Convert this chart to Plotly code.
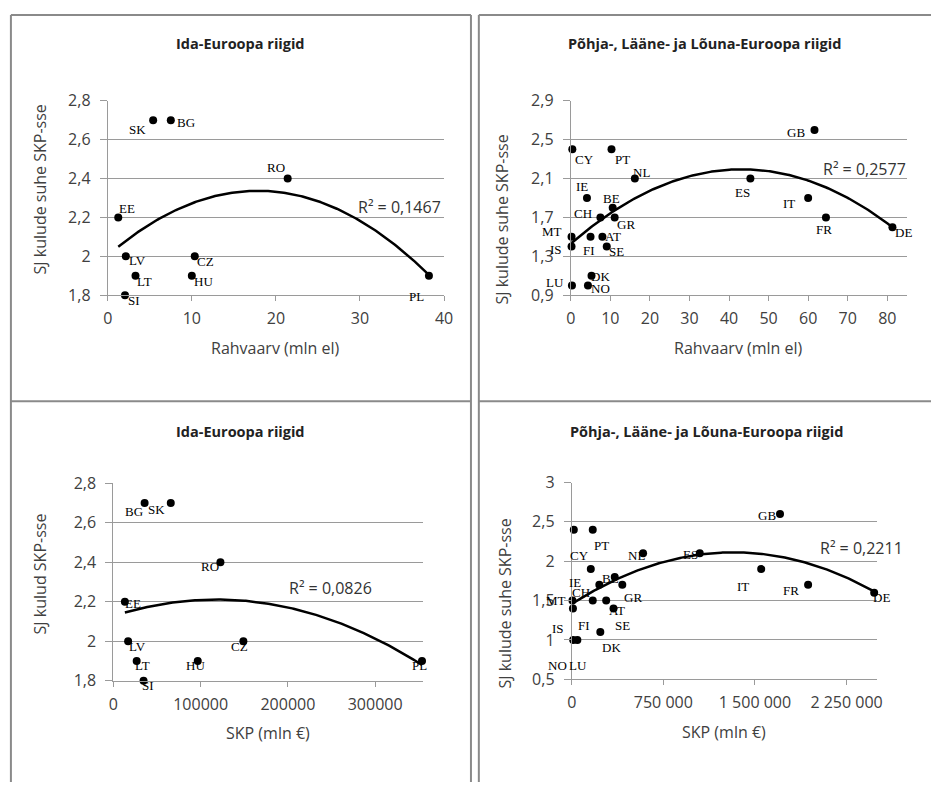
import numpy as np
import plotly.graph_objects as go

W, H = 940, 793

# ---------------- DATA ----------------
# Ida-Euroopa (East)
east_countries = ["SK", "BG", "RO", "EE", "LV", "CZ", "LT", "HU", "SI", "PL"]
east_pop = [5.4, 7.5, 21.4, 1.25, 2.15, 10.35, 3.3, 10.0, 2.05, 38.2]           # mln el
east_gdp = [65800, 35800, 122700, 13200, 16900, 149000, 26700, 96700, 34600, 353700]  # mln €
east_ratio = [2.7, 2.7, 2.4, 2.2, 2.0, 2.0, 1.9, 1.9, 1.8, 1.9]                  # SJ kulud / SKP

# Põhja-, Lääne- ja Lõuna-Euroopa (West)
west_countries = ["GB", "CY", "PT", "NL", "ES", "IE", "IT", "BE", "CH", "GR",
                  "FR", "DE", "MT", "FI", "AT", "IS", "SE", "DK", "LU", "NO"]
west_pop = [61.6, 0.4, 10.3, 16.2, 45.4, 4.1, 60.0, 10.6, 7.5, 11.1,
            64.5, 81.3, 0.2, 5.0, 8.0, 0.2, 9.1, 5.25, 0.3, 4.35]
west_gdp = [1705000, 17000, 172000, 584000, 1048000, 156000, 1551000, 352000, 226000, 414000,
            1935000, 2476000, 6000, 172000, 282000, 10000, 342000, 234000, 46000, 12000]
west_ratio = [2.6, 2.4, 2.4, 2.1, 2.1, 1.9, 1.9, 1.8, 1.7, 1.7,
              1.7, 1.6, 1.5, 1.5, 1.5, 1.4, 1.4, 1.1, 1.0, 1.0]

r2_texts = ["R² = 0,1467", "R² = 0,2577", "R² = 0,0826", "R² = 0,2211"]
titles = ["Ida-Euroopa riigid", "Põhja-, Lääne- ja Lõuna-Euroopa riigid",
          "Ida-Euroopa riigid", "Põhja-, Lääne- ja Lõuna-Euroopa riigid"]
x_titles = ["Rahvaarv (mln el)", "Rahvaarv (mln el)", "SKP (mln €)", "SKP (mln €)"]
y_titles = ["SJ kulude suhe SKP-sse", "SJ kulude suhe SKP-sse",
            "SJ kulud SKP-sse", "SJ kulude suhe SKP-sse"]

# ---------------- STYLE (label offsets in px: dx right, dy up) ----------------
off1 = [(-16, -9), (15, -2), (-12, 11), (9, 9), (12, -4), (11, -5), (9, -6), (12, -6), (9, -5), (-12, -21)]
off2 = [(-18, -3), (12, -10), (11, -10), (7, 6), (-8, -14), (-5, 11), (-19, -6), (-1, 9), (-17, 4), (11, -7),
        (-2, -12), (11, -5), (-20, 5), (-2, -14), (11, 0), (-16, -3), (10, -5), (9, -1), (-17, 3), (13, -3)]
off3 = [(-14, -6), (-11, -8), (-10, -4), (8, -2), (9, -5), (-4, -5), (6, -4), (-2, -4), (4, -5), (-2, -4)]
off4 = [(-13, -1), (6, -26), (9, -16), (-7, -2), (-9, -1), (-16, -13), (-18, -17), (-4, -2), (-18, -8), (11, -13),
        (-17, -6), (7, -5), (-16, 0), (-9, -25), (11, -10), (-15, -20), (9, -17), (11, -15), (1, -26), (-16, -26)]

GRID = "#9a9a9a"
TICKC = "#404040"
FONT = "Open Sans"
SERIF = "Liberation Serif"


def px_x(p):
    return p / W


def px_y(p):
    return 1 - p / H


fig = go.Figure()

panels = [
    dict(x=east_pop, y=east_ratio, names=east_countries, off=off1, ax="x", ay="y"),
    dict(x=west_pop, y=west_ratio, names=west_countries, off=off2, ax="x2", ay="y2"),
    dict(x=east_gdp, y=east_ratio, names=east_countries, off=off3, ax="x3", ay="y3"),
    dict(x=west_gdp, y=west_ratio, names=west_countries, off=off4, ax="x4", ay="y4"),
]

annotations = []
for p in panels:
    xs = np.array(p["x"], dtype=float)
    ys = np.array(p["y"], dtype=float)
    coef = np.polyfit(xs, ys, 2)
    xt = np.linspace(xs.min(), xs.max(), 200)
    yt = np.polyval(coef, xt)
    fig.add_trace(go.Scatter(x=xt, y=yt, mode="lines", line=dict(color="black", width=2.5),
                             xaxis=p["ax"], yaxis=p["ay"], hoverinfo="skip", showlegend=False))
    fig.add_trace(go.Scatter(x=p["x"], y=p["y"], mode="markers", text=p["names"],
                             marker=dict(color="black", size=8), xaxis=p["ax"], yaxis=p["ay"],
                             showlegend=False, cliponaxis=False))
    for xv, yv, nm, (dx, dy) in zip(p["x"], p["y"], p["names"], p["off"]):
        annotations.append(dict(x=xv, y=yv, xref=p["ax"], yref=p["ay"], text=nm, showarrow=False,
                                xshift=dx, yshift=dy, font=dict(family=SERIF, size=13, color="black")))

# titles, axis titles, R² labels (pixel positions)
title_pos = [(239, 33), (710, 33), (239, 432), (712, 432)]
xt_pos = [(275, 347), (745, 347), (267, 743), (730, 742)]
yt_pos = [(35, 183), (505, 214), (35, 579), (508, 609)]
r2_pos = [(400, 202), (873, 163), (330, 593), (869, 552)]

for i in range(4):
    annotations.append(dict(x=px_x(title_pos[i][0]), y=px_y(title_pos[i][1]), xref="paper", yref="paper",
                            text="<b>" + titles[i] + "</b>", showarrow=False, xanchor="center", yanchor="middle",
                            font=dict(family=FONT, size=14.5, color="#222222")))
    annotations.append(dict(x=px_x(xt_pos[i][0]), y=px_y(xt_pos[i][1]), xref="paper", yref="paper",
                            text=x_titles[i], showarrow=False, xanchor="center", yanchor="middle",
                            font=dict(family=FONT, size=16, color=TICKC)))
    annotations.append(dict(x=px_x(yt_pos[i][0]), y=px_y(yt_pos[i][1]), xref="paper", yref="paper",
                            text=y_titles[i], showarrow=False, xanchor="center", yanchor="middle",
                            textangle=-90, font=dict(family=FONT, size=16, color=TICKC)))
    annotations.append(dict(x=px_x(r2_pos[i][0]), y=px_y(r2_pos[i][1]), xref="paper", yref="paper",
                            text=r2_texts[i], showarrow=False, xanchor="center", yanchor="middle",
                            font=dict(family=FONT, size=16, color="#333333")))

tickfont = dict(family=FONT, size=16, color=TICKC)
xcommon = dict(showgrid=False, zeroline=False, showline=True, linecolor=GRID, linewidth=1,
               ticks="outside", ticklen=5, tickcolor=GRID, tickfont=tickfont, ticklabelstandoff=4)
ycommon = dict(showgrid=True, gridcolor=GRID, gridwidth=1, zeroline=False, showline=True, linecolor=GRID,
               linewidth=1, ticks="outside", ticklen=7, tickcolor=GRID, tickfont=tickfont, ticklabelstandoff=6)

fig.update_layout(
    width=W, height=H, margin=dict(l=0, r=0, t=0, b=0),
    paper_bgcolor="white", plot_bgcolor="white",
    separators=", ",
    showlegend=False,
    xaxis=dict(domain=[px_x(104.3), px_x(445.7)], range=[0, 40], dtick=10, tick0=0, anchor="y", **xcommon),
    yaxis=dict(domain=[px_y(292.3), px_y(92.3)], range=[1.7999, 2.8001], dtick=0.2, tick0=1.8, anchor="x", **ycommon),
    xaxis2=dict(domain=[px_x(574.3), px_x(915.7)], range=[0, 85], dtick=10, tick0=0, anchor="y2", **xcommon),
    yaxis2=dict(domain=[px_y(292.3), px_y(92.3)], range=[0.8999, 2.9001], dtick=0.4, tick0=0.9, anchor="x2", **ycommon),
    xaxis3=dict(domain=[px_x(110), px_x(424)], range=[0, 354500], dtick=100000, tick0=0, tickformat="d",
                anchor="y3", **xcommon),
    yaxis3=dict(domain=[px_y(689), px_y(485.7)], range=[1.7999, 2.8001], dtick=0.2, tick0=1.8, anchor="x3", **ycommon),
    xaxis4=dict(domain=[px_x(575.3), px_x(885.3)], range=[0, 2500000], dtick=750000, tick0=0, tickformat=",d",
                anchor="y4", **xcommon),
    yaxis4=dict(domain=[px_y(687.3), px_y(485)], range=[0.4999, 3.0001], dtick=0.5, tick0=0.5, anchor="x4", **ycommon),
    annotations=annotations,
)

# panel frames
BORDER = "#8a8a8a"
frame_lines = [
    (6, 4, 6, 793), (6, 4, 473, 4), (473, 4, 473, 793),
    (481, 4, 481, 793), (481, 4, 940, 4),
    (6, 401.5, 473, 401.5), (481, 401.5, 940, 401.5),
]
for x0, y0, x1, y1 in frame_lines:
    fig.add_shape(type="line", xref="paper", yref="paper", x0=px_x(x0), y0=px_y(y0), x1=px_x(x1), y1=px_y(y1),
                  line=dict(color=BORDER, width=2))

fig.write_html("out.html", config={"displayModeBar": False},
               post_script="document.body.style.margin='0';document.body.style.overflow='hidden';")
